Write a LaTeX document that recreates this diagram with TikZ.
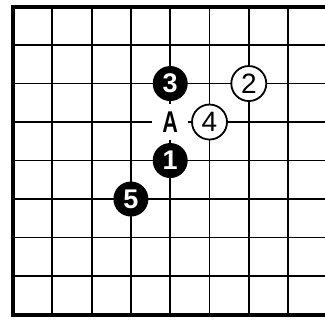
\documentclass[tikz,border=0pt]{standalone}
\usepackage{fontspec}
\setmainfont{Liberation Sans}
\newfontfamily\pointfont[FakeStretch=0.72]{Liberation Sans}
\usetikzlibrary{positioning}

\begin{document}
\begin{tikzpicture}[
    x=39.3pt, y=-38.5pt,
    every node/.style={font=\fontsize{24}{24}\selectfont},
    gridline/.style={line width=1.8pt},
    edgeline/.style={line width=4pt, line cap=rect},
    blackstone/.style={circle, fill=black, text=white, minimum size=35pt, inner sep=0pt, font=\fontsize{27}{27}\selectfont\bfseries},
    whitestone/.style={circle, draw=black, fill=white, line width=1.8pt, minimum size=35pt, inner sep=0pt, font=\fontsize{28}{28}\selectfont},
    pointlabel/.style={rectangle, fill=white, minimum size=36pt, inner sep=0pt, font=\pointfont\fontsize{30}{30}\selectfont\bfseries},
]
    \useasboundingbox (-0.331,-0.17) rectangle (7.939,8.143);

    % --- board ---
    \foreach \r in {1,...,7}
        \draw[gridline] (0,\r) -- (7.94,\r);
    \foreach \c in {1,...,7}
        \draw[gridline] (\c,0) -- (\c,8);
    \draw[edgeline] (7.94,0) -- (0,0) -- (0,8) -- (7.94,8);

    % --- stones ---
    \node[blackstone] (b1) at (4,4) {1};
    \node[whitestone] (w2) at (6,2) {2};
    \node[blackstone] (b3) at (4,2) {3};
    \node[whitestone] (w4) at (5,3) {4};
    \node[blackstone] (b5) at (3,5) {5};

    % --- marked point ---
    \node[pointlabel] (ptA) at (4,3) {A};
\end{tikzpicture}
\end{document}
